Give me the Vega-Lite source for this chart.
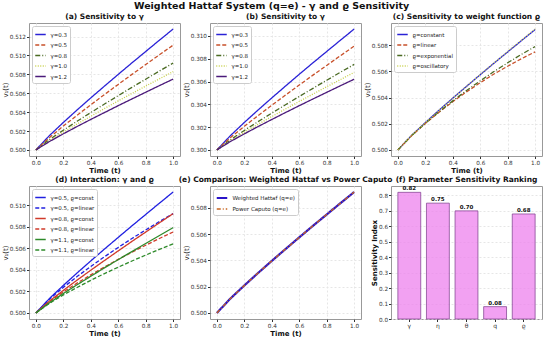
{
  "$schema": "https://vega.github.io/schema/vega-lite/v6.json",
  "autosize": {"type": "pad"},
  "padding": {"left": 0, "top": 1, "right": 2, "bottom": 1},
  "background": "white",
  "title": {"text": "Weighted Hattaf System (q=e) - γ and ϱ Sensitivity", "fontSize": 9.5, "offset": 2, "anchor": "middle"},
  "datasets": {
    "a": [
      {"s":"γ=0.3","t":0,"v":0.5},{"s":"γ=0.3","t":0.1,"v":0.50154},{"s":"γ=0.3","t":0.2,"v":0.50291},{"s":"γ=0.3","t":0.3,"v":0.50423},{"s":"γ=0.3","t":0.4,"v":0.50551},{"s":"γ=0.3","t":0.5,"v":0.50676},{"s":"γ=0.3","t":0.6,"v":0.508},{"s":"γ=0.3","t":0.7,"v":0.50922},{"s":"γ=0.3","t":0.8,"v":0.51042},{"s":"γ=0.3","t":0.9,"v":0.51162},{"s":"γ=0.3","t":1,"v":0.5128},
      {"s":"γ=0.5","t":0,"v":0.5},{"s":"γ=0.5","t":0.1,"v":0.50133},{"s":"γ=0.5","t":0.2,"v":0.50253},{"s":"γ=0.5","t":0.3,"v":0.50367},{"s":"γ=0.5","t":0.4,"v":0.50478},{"s":"γ=0.5","t":0.5,"v":0.50587},{"s":"γ=0.5","t":0.6,"v":0.50694},{"s":"γ=0.5","t":0.7,"v":0.508},{"s":"γ=0.5","t":0.8,"v":0.50904},{"s":"γ=0.5","t":0.9,"v":0.51007},{"s":"γ=0.5","t":1,"v":0.5111},
      {"s":"γ=0.8","t":0,"v":0.5},{"s":"γ=0.8","t":0.1,"v":0.50111},{"s":"γ=0.8","t":0.2,"v":0.50209},{"s":"γ=0.8","t":0.3,"v":0.50304},{"s":"γ=0.8","t":0.4,"v":0.50396},{"s":"γ=0.8","t":0.5,"v":0.50486},{"s":"γ=0.8","t":0.6,"v":0.50575},{"s":"γ=0.8","t":0.7,"v":0.50663},{"s":"γ=0.8","t":0.8,"v":0.50749},{"s":"γ=0.8","t":0.9,"v":0.50835},{"s":"γ=0.8","t":1,"v":0.5092},
      {"s":"γ=1.0","t":0,"v":0.5},{"s":"γ=1.0","t":0.1,"v":0.501},{"s":"γ=1.0","t":0.2,"v":0.50189},{"s":"γ=1.0","t":0.3,"v":0.50274},{"s":"γ=1.0","t":0.4,"v":0.50357},{"s":"γ=1.0","t":0.5,"v":0.50439},{"s":"γ=1.0","t":0.6,"v":0.50519},{"s":"γ=1.0","t":0.7,"v":0.50598},{"s":"γ=1.0","t":0.8,"v":0.50676},{"s":"γ=1.0","t":0.9,"v":0.50753},{"s":"γ=1.0","t":1,"v":0.5083},
      {"s":"γ=1.2","t":0,"v":0.5},{"s":"γ=1.2","t":0.1,"v":0.5009},{"s":"γ=1.2","t":0.2,"v":0.50171},{"s":"γ=1.2","t":0.3,"v":0.50248},{"s":"γ=1.2","t":0.4,"v":0.50323},{"s":"γ=1.2","t":0.5,"v":0.50396},{"s":"γ=1.2","t":0.6,"v":0.50469},{"s":"γ=1.2","t":0.7,"v":0.5054},{"s":"γ=1.2","t":0.8,"v":0.50611},{"s":"γ=1.2","t":0.9,"v":0.50681},{"s":"γ=1.2","t":1,"v":0.5075}
    ],
    "b": [
      {"s":"γ=0.3","t":0,"v":0.3},{"s":"γ=0.3","t":0.1,"v":0.30127},{"s":"γ=0.3","t":0.2,"v":0.30241},{"s":"γ=0.3","t":0.3,"v":0.3035},{"s":"γ=0.3","t":0.4,"v":0.30456},{"s":"γ=0.3","t":0.5,"v":0.3056},{"s":"γ=0.3","t":0.6,"v":0.30663},{"s":"γ=0.3","t":0.7,"v":0.30764},{"s":"γ=0.3","t":0.8,"v":0.30863},{"s":"γ=0.3","t":0.9,"v":0.30962},{"s":"γ=0.3","t":1,"v":0.3106},
      {"s":"γ=0.5","t":0,"v":0.3},{"s":"γ=0.5","t":0.1,"v":0.30109},{"s":"γ=0.5","t":0.2,"v":0.30207},{"s":"γ=0.5","t":0.3,"v":0.30301},{"s":"γ=0.5","t":0.4,"v":0.30392},{"s":"γ=0.5","t":0.5,"v":0.30481},{"s":"γ=0.5","t":0.6,"v":0.30569},{"s":"γ=0.5","t":0.7,"v":0.30656},{"s":"γ=0.5","t":0.8,"v":0.30741},{"s":"γ=0.5","t":0.9,"v":0.30826},{"s":"γ=0.5","t":1,"v":0.3091},
      {"s":"γ=0.8","t":0,"v":0.3},{"s":"γ=0.8","t":0.1,"v":0.3009},{"s":"γ=0.8","t":0.2,"v":0.30171},{"s":"γ=0.8","t":0.3,"v":0.30248},{"s":"γ=0.8","t":0.4,"v":0.30323},{"s":"γ=0.8","t":0.5,"v":0.30396},{"s":"γ=0.8","t":0.6,"v":0.30469},{"s":"γ=0.8","t":0.7,"v":0.3054},{"s":"γ=0.8","t":0.8,"v":0.30611},{"s":"γ=0.8","t":0.9,"v":0.30681},{"s":"γ=0.8","t":1,"v":0.3075},
      {"s":"γ=1.0","t":0,"v":0.3},{"s":"γ=1.0","t":0.1,"v":0.30082},{"s":"γ=1.0","t":0.2,"v":0.30155},{"s":"γ=1.0","t":0.3,"v":0.30225},{"s":"γ=1.0","t":0.4,"v":0.30293},{"s":"γ=1.0","t":0.5,"v":0.30359},{"s":"γ=1.0","t":0.6,"v":0.30425},{"s":"γ=1.0","t":0.7,"v":0.3049},{"s":"γ=1.0","t":0.8,"v":0.30554},{"s":"γ=1.0","t":0.9,"v":0.30617},{"s":"γ=1.0","t":1,"v":0.3068},
      {"s":"γ=1.2","t":0,"v":0.3},{"s":"γ=1.2","t":0.1,"v":0.30075},{"s":"γ=1.2","t":0.2,"v":0.30141},{"s":"γ=1.2","t":0.3,"v":0.30205},{"s":"γ=1.2","t":0.4,"v":0.30267},{"s":"γ=1.2","t":0.5,"v":0.30328},{"s":"γ=1.2","t":0.6,"v":0.30388},{"s":"γ=1.2","t":0.7,"v":0.30447},{"s":"γ=1.2","t":0.8,"v":0.30505},{"s":"γ=1.2","t":0.9,"v":0.30563},{"s":"γ=1.2","t":1,"v":0.3062}
    ],
    "c": [
      {"s":"ϱ=constant","t":0,"v":0.5},{"s":"ϱ=constant","t":0.1,"v":0.50111},{"s":"ϱ=constant","t":0.2,"v":0.50209},{"s":"ϱ=constant","t":0.3,"v":0.50304},{"s":"ϱ=constant","t":0.4,"v":0.50396},{"s":"ϱ=constant","t":0.5,"v":0.50486},{"s":"ϱ=constant","t":0.6,"v":0.50575},{"s":"ϱ=constant","t":0.7,"v":0.50663},{"s":"ϱ=constant","t":0.8,"v":0.50749},{"s":"ϱ=constant","t":0.9,"v":0.50835},{"s":"ϱ=constant","t":1,"v":0.5092},
      {"s":"ϱ=linear","t":0,"v":0.5},{"s":"ϱ=linear","t":0.1,"v":0.50109},{"s":"ϱ=linear","t":0.2,"v":0.50202},{"s":"ϱ=linear","t":0.3,"v":0.50289},{"s":"ϱ=linear","t":0.4,"v":0.50369},{"s":"ϱ=linear","t":0.5,"v":0.50444},{"s":"ϱ=linear","t":0.6,"v":0.50514},{"s":"ϱ=linear","t":0.7,"v":0.5058},{"s":"ϱ=linear","t":0.8,"v":0.5064},{"s":"ϱ=linear","t":0.9,"v":0.50697},{"s":"ϱ=linear","t":1,"v":0.5075},
      {"s":"ϱ=exponential","t":0,"v":0.5},{"s":"ϱ=exponential","t":0.1,"v":0.5011},{"s":"ϱ=exponential","t":0.2,"v":0.50204},{"s":"ϱ=exponential","t":0.3,"v":0.50292},{"s":"ϱ=exponential","t":0.4,"v":0.50375},{"s":"ϱ=exponential","t":0.5,"v":0.50454},{"s":"ϱ=exponential","t":0.6,"v":0.50528},{"s":"ϱ=exponential","t":0.7,"v":0.50599},{"s":"ϱ=exponential","t":0.8,"v":0.50666},{"s":"ϱ=exponential","t":0.9,"v":0.5073},{"s":"ϱ=exponential","t":1,"v":0.5079},
      {"s":"ϱ=oscillatory","t":0,"v":0.5},{"s":"ϱ=oscillatory","t":0.1,"v":0.5011},{"s":"ϱ=oscillatory","t":0.2,"v":0.50208},{"s":"ϱ=oscillatory","t":0.3,"v":0.50302},{"s":"ϱ=oscillatory","t":0.4,"v":0.50395},{"s":"ϱ=oscillatory","t":0.5,"v":0.50486},{"s":"ϱ=oscillatory","t":0.6,"v":0.50576},{"s":"ϱ=oscillatory","t":0.7,"v":0.50665},{"s":"ϱ=oscillatory","t":0.8,"v":0.50752},{"s":"ϱ=oscillatory","t":0.9,"v":0.50838},{"s":"ϱ=oscillatory","t":1,"v":0.50924}
    ],
    "d": [
      {"s":"γ=0.5, ϱ=const","t":0,"v":0.5},{"s":"γ=0.5, ϱ=const","t":0.1,"v":0.50135},{"s":"γ=0.5, ϱ=const","t":0.2,"v":0.50255},{"s":"γ=0.5, ϱ=const","t":0.3,"v":0.5037},{"s":"γ=0.5, ϱ=const","t":0.4,"v":0.50482},{"s":"γ=0.5, ϱ=const","t":0.5,"v":0.50592},{"s":"γ=0.5, ϱ=const","t":0.6,"v":0.507},{"s":"γ=0.5, ϱ=const","t":0.7,"v":0.50807},{"s":"γ=0.5, ϱ=const","t":0.8,"v":0.50912},{"s":"γ=0.5, ϱ=const","t":0.9,"v":0.51017},{"s":"γ=0.5, ϱ=const","t":1,"v":0.5112},
      {"s":"γ=0.5, ϱ=linear","t":0,"v":0.5},{"s":"γ=0.5, ϱ=linear","t":0.1,"v":0.50129},{"s":"γ=0.5, ϱ=linear","t":0.2,"v":0.50237},{"s":"γ=0.5, ϱ=linear","t":0.3,"v":0.50337},{"s":"γ=0.5, ϱ=linear","t":0.4,"v":0.50431},{"s":"γ=0.5, ϱ=linear","t":0.5,"v":0.50521},{"s":"γ=0.5, ϱ=linear","t":0.6,"v":0.50607},{"s":"γ=0.5, ϱ=linear","t":0.7,"v":0.5069},{"s":"γ=0.5, ϱ=linear","t":0.8,"v":0.50769},{"s":"γ=0.5, ϱ=linear","t":0.9,"v":0.50846},{"s":"γ=0.5, ϱ=linear","t":1,"v":0.5092},
      {"s":"γ=0.8, ϱ=const","t":0,"v":0.5},{"s":"γ=0.8, ϱ=const","t":0.1,"v":0.50111},{"s":"γ=0.8, ϱ=const","t":0.2,"v":0.50209},{"s":"γ=0.8, ϱ=const","t":0.3,"v":0.50304},{"s":"γ=0.8, ϱ=const","t":0.4,"v":0.50396},{"s":"γ=0.8, ϱ=const","t":0.5,"v":0.50486},{"s":"γ=0.8, ϱ=const","t":0.6,"v":0.50575},{"s":"γ=0.8, ϱ=const","t":0.7,"v":0.50663},{"s":"γ=0.8, ϱ=const","t":0.8,"v":0.50749},{"s":"γ=0.8, ϱ=const","t":0.9,"v":0.50835},{"s":"γ=0.8, ϱ=const","t":1,"v":0.5092},
      {"s":"γ=0.8, ϱ=linear","t":0,"v":0.5},{"s":"γ=0.8, ϱ=linear","t":0.1,"v":0.50106},{"s":"γ=0.8, ϱ=linear","t":0.2,"v":0.50194},{"s":"γ=0.8, ϱ=linear","t":0.3,"v":0.50276},{"s":"γ=0.8, ϱ=linear","t":0.4,"v":0.50353},{"s":"γ=0.8, ϱ=linear","t":0.5,"v":0.50426},{"s":"γ=0.8, ϱ=linear","t":0.6,"v":0.50496},{"s":"γ=0.8, ϱ=linear","t":0.7,"v":0.50563},{"s":"γ=0.8, ϱ=linear","t":0.8,"v":0.50627},{"s":"γ=0.8, ϱ=linear","t":0.9,"v":0.5069},{"s":"γ=0.8, ϱ=linear","t":1,"v":0.5075},
      {"s":"γ=1.1, ϱ=const","t":0,"v":0.5},{"s":"γ=1.1, ϱ=const","t":0.1,"v":0.50095},{"s":"γ=1.1, ϱ=const","t":0.2,"v":0.5018},{"s":"γ=1.1, ϱ=const","t":0.3,"v":0.50261},{"s":"γ=1.1, ϱ=const","t":0.4,"v":0.5034},{"s":"γ=1.1, ϱ=const","t":0.5,"v":0.50418},{"s":"γ=1.1, ϱ=const","t":0.6,"v":0.50494},{"s":"γ=1.1, ϱ=const","t":0.7,"v":0.50569},{"s":"γ=1.1, ϱ=const","t":0.8,"v":0.50643},{"s":"γ=1.1, ϱ=const","t":0.9,"v":0.50717},{"s":"γ=1.1, ϱ=const","t":1,"v":0.5079},
      {"s":"γ=1.1, ϱ=linear","t":0,"v":0.5},{"s":"γ=1.1, ϱ=linear","t":0.1,"v":0.5009},{"s":"γ=1.1, ϱ=linear","t":0.2,"v":0.50167},{"s":"γ=1.1, ϱ=linear","t":0.3,"v":0.50236},{"s":"γ=1.1, ϱ=linear","t":0.4,"v":0.50302},{"s":"γ=1.1, ϱ=linear","t":0.5,"v":0.50365},{"s":"γ=1.1, ϱ=linear","t":0.6,"v":0.50424},{"s":"γ=1.1, ϱ=linear","t":0.7,"v":0.50481},{"s":"γ=1.1, ϱ=linear","t":0.8,"v":0.50536},{"s":"γ=1.1, ϱ=linear","t":0.9,"v":0.50589},{"s":"γ=1.1, ϱ=linear","t":1,"v":0.5064}
    ],
    "e": [
      {"s":"Weighted Hattaf (q=e)","t":0,"v":0.5},{"s":"Weighted Hattaf (q=e)","t":0.1,"v":0.50111},{"s":"Weighted Hattaf (q=e)","t":0.2,"v":0.50209},{"s":"Weighted Hattaf (q=e)","t":0.3,"v":0.50304},{"s":"Weighted Hattaf (q=e)","t":0.4,"v":0.50396},{"s":"Weighted Hattaf (q=e)","t":0.5,"v":0.50486},{"s":"Weighted Hattaf (q=e)","t":0.6,"v":0.50575},{"s":"Weighted Hattaf (q=e)","t":0.7,"v":0.50663},{"s":"Weighted Hattaf (q=e)","t":0.8,"v":0.50749},{"s":"Weighted Hattaf (q=e)","t":0.9,"v":0.50835},{"s":"Weighted Hattaf (q=e)","t":1,"v":0.5092},
      {"s":"Power Caputo (q=e)","t":0,"v":0.5},{"s":"Power Caputo (q=e)","t":0.1,"v":0.50111},{"s":"Power Caputo (q=e)","t":0.2,"v":0.50209},{"s":"Power Caputo (q=e)","t":0.3,"v":0.50304},{"s":"Power Caputo (q=e)","t":0.4,"v":0.50396},{"s":"Power Caputo (q=e)","t":0.5,"v":0.50486},{"s":"Power Caputo (q=e)","t":0.6,"v":0.50575},{"s":"Power Caputo (q=e)","t":0.7,"v":0.50663},{"s":"Power Caputo (q=e)","t":0.8,"v":0.50749},{"s":"Power Caputo (q=e)","t":0.9,"v":0.50835},{"s":"Power Caputo (q=e)","t":1,"v":0.5092}
    ],
    "f": [
      {"p":"γ","v":0.82},{"p":"η","v":0.75},{"p":"θ","v":0.70},{"p":"q","v":0.08},{"p":"ϱ","v":0.68}
    ]
  },
  "columns": 3,
  "spacing": {"row": 30, "column": 30},
  "bounds": "flush",
  "resolve": {
    "scale": {"color": "independent", "strokeDash": "independent", "strokeWidth": "independent", "x": "independent", "y": "independent"},
    "legend": {"color": "independent", "strokeDash": "independent", "strokeWidth": "independent"},
    "axis": {"x": "independent", "y": "independent"}
  },
  "concat": [
    {
      "title": "(a) Sensitivity to γ",
      "width": 151, "height": 133,
      "data": {"name": "a"},
      "mark": {"type": "line", "strokeWidth": 1.3},
      "encoding": {
        "x": {"field": "t", "type": "quantitative", "scale": {"domain": [-0.05, 1.05], "nice": false, "zero": false}, "axis": {"values": [0, 0.2, 0.4, 0.6, 0.8, 1], "format": ".1f", "title": "Time (t)"}},
        "y": {"field": "v", "type": "quantitative", "scale": {"domain": [0.49936, 0.51344], "nice": false, "zero": false}, "axis": {"values": [0.5, 0.502, 0.504, 0.506, 0.508, 0.51, 0.512], "format": ".3f", "title": "v₁(t)"}},
        "color": {"field": "s", "type": "nominal", "scale": {"domain": ["γ=0.3", "γ=0.5", "γ=0.8", "γ=1.0", "γ=1.2"], "range": ["#2a22d6", "#c8502a", "#4a6a22", "#c8d04a", "#4b1a7a"]}, "legend": {"orient": "top-left", "title": null}},
        "strokeDash": {"field": "s", "type": "nominal", "scale": {"domain": ["γ=0.3", "γ=0.5", "γ=0.8", "γ=1.0", "γ=1.2"], "range": [[1, 0], [4, 2], [5, 2, 1, 2], [1, 1.5], [1, 0]]}, "legend": {"orient": "top-left", "title": null}}
      }
    },
    {
      "title": "(b) Sensitivity to γ",
      "width": 151, "height": 133,
      "data": {"name": "b"},
      "mark": {"type": "line", "strokeWidth": 1.3},
      "encoding": {
        "x": {"field": "t", "type": "quantitative", "scale": {"domain": [-0.05, 1.05], "nice": false, "zero": false}, "axis": {"values": [0, 0.2, 0.4, 0.6, 0.8, 1], "format": ".1f", "title": "Time (t)"}},
        "y": {"field": "v", "type": "quantitative", "scale": {"domain": [0.29947, 0.31113], "nice": false, "zero": false}, "axis": {"values": [0.3, 0.302, 0.304, 0.306, 0.308, 0.31], "format": ".3f", "title": "v₂(t)"}},
        "color": {"field": "s", "type": "nominal", "scale": {"domain": ["γ=0.3", "γ=0.5", "γ=0.8", "γ=1.0", "γ=1.2"], "range": ["#2a22d6", "#c8502a", "#4a6a22", "#c8d04a", "#4b1a7a"]}, "legend": {"orient": "top-left", "title": null}},
        "strokeDash": {"field": "s", "type": "nominal", "scale": {"domain": ["γ=0.3", "γ=0.5", "γ=0.8", "γ=1.0", "γ=1.2"], "range": [[1, 0], [4, 2], [5, 2, 1, 2], [1, 1.5], [1, 0]]}, "legend": {"orient": "top-left", "title": null}}
      }
    },
    {
      "title": "(c) Sensitivity to weight function ϱ",
      "width": 151, "height": 133,
      "data": {"name": "c"},
      "mark": {"type": "line", "strokeWidth": 1.3},
      "encoding": {
        "x": {"field": "t", "type": "quantitative", "scale": {"domain": [-0.05, 1.05], "nice": false, "zero": false}, "axis": {"values": [0, 0.2, 0.4, 0.6, 0.8, 1], "format": ".1f", "title": "Time (t)"}},
        "y": {"field": "v", "type": "quantitative", "scale": {"domain": [0.49954, 0.5097], "nice": false, "zero": false}, "axis": {"values": [0.5, 0.502, 0.504, 0.506, 0.508], "format": ".3f", "title": "v₁(t)"}},
        "color": {"field": "s", "type": "nominal", "scale": {"domain": ["ϱ=constant", "ϱ=linear", "ϱ=exponential", "ϱ=oscillatory"], "range": ["#2a22d6", "#c8502a", "#4a6a22", "#c8d04a"]}, "legend": {"orient": "top-left", "title": null}},
        "strokeDash": {"field": "s", "type": "nominal", "scale": {"domain": ["ϱ=constant", "ϱ=linear", "ϱ=exponential", "ϱ=oscillatory"], "range": [[1, 0], [4, 2], [5, 2, 1, 2], [1, 1.5]]}, "legend": {"orient": "top-left", "title": null}}
      }
    },
    {
      "title": "(d) Interaction: γ and ϱ",
      "width": 151, "height": 133,
      "data": {"name": "d"},
      "mark": {"type": "line", "strokeWidth": 1.3},
      "encoding": {
        "x": {"field": "t", "type": "quantitative", "scale": {"domain": [-0.05, 1.05], "nice": false, "zero": false}, "axis": {"values": [0, 0.2, 0.4, 0.6, 0.8, 1], "format": ".1f", "title": "Time (t)"}},
        "y": {"field": "v", "type": "quantitative", "scale": {"domain": [0.49944, 0.51176], "nice": false, "zero": false}, "axis": {"values": [0.5, 0.502, 0.504, 0.506, 0.508, 0.51], "format": ".3f", "title": "v₁(t)"}},
        "color": {"field": "s", "type": "nominal", "scale": {"domain": ["γ=0.5, ϱ=const", "γ=0.5, ϱ=linear", "γ=0.8, ϱ=const", "γ=0.8, ϱ=linear", "γ=1.1, ϱ=const", "γ=1.1, ϱ=linear"], "range": ["#2020e0", "#2020e0", "#d03a2a", "#d03a2a", "#2e8a2a", "#2e8a2a"]}, "legend": {"orient": "top-left", "title": null}},
        "strokeDash": {"field": "s", "type": "nominal", "scale": {"domain": ["γ=0.5, ϱ=const", "γ=0.5, ϱ=linear", "γ=0.8, ϱ=const", "γ=0.8, ϱ=linear", "γ=1.1, ϱ=const", "γ=1.1, ϱ=linear"], "range": [[1, 0], [4, 2], [1, 0], [4, 2], [1, 0], [4, 2]]}, "legend": {"orient": "top-left", "title": null}}
      }
    },
    {
      "title": "(e) Comparison: Weighted Hattaf vs Power Caputo",
      "width": 151, "height": 133,
      "data": {"name": "e"},
      "mark": {"type": "line"},
      "encoding": {
        "x": {"field": "t", "type": "quantitative", "scale": {"domain": [-0.05, 1.05], "nice": false, "zero": false}, "axis": {"values": [0, 0.2, 0.4, 0.6, 0.8, 1], "format": ".1f", "title": "Time (t)"}},
        "y": {"field": "v", "type": "quantitative", "scale": {"domain": [0.49954, 0.50966], "nice": false, "zero": false}, "axis": {"values": [0.5, 0.502, 0.504, 0.506, 0.508], "format": ".3f", "title": "v₁(t)"}},
        "color": {"field": "s", "type": "nominal", "scale": {"domain": ["Weighted Hattaf (q=e)", "Power Caputo (q=e)"], "range": ["#2a14c8", "#c8641e"]}, "legend": {"orient": "top-left", "title": null}},
        "strokeDash": {"field": "s", "type": "nominal", "scale": {"domain": ["Weighted Hattaf (q=e)", "Power Caputo (q=e)"], "range": [[1, 0], [4, 2, 1, 2]]}, "legend": {"orient": "top-left", "title": null}},
        "strokeWidth": {"field": "s", "type": "nominal", "scale": {"domain": ["Weighted Hattaf (q=e)", "Power Caputo (q=e)"], "range": [2.2, 1.3]}, "legend": {"orient": "top-left", "title": null}}
      }
    },
    {
      "title": "(f) Parameter Sensitivity Ranking",
      "width": 151, "height": 133,
      "data": {"name": "f"},
      "encoding": {
        "x": {"field": "p", "type": "nominal", "sort": null, "scale": {"paddingInner": 0.2, "paddingOuter": 0.24}, "axis": {"title": null, "labelAngle": 0, "labelFontSize": 6, "grid": false}},
        "y": {"field": "v", "type": "quantitative", "scale": {"domain": [0, 0.861], "nice": false}, "axis": {"values": [0, 0.1, 0.2, 0.3, 0.4, 0.5, 0.6, 0.7, 0.8], "format": ".1f", "title": "Sensitivity Index", "titleFontWeight": "bold"}}
      },
      "layer": [
        {"mark": {"type": "bar", "fill": "#ee82ee", "fillOpacity": 0.75, "stroke": "#7a3a8a", "strokeOpacity": 0.7, "strokeWidth": 1}},
        {"mark": {"type": "text", "dy": -4, "fontSize": 5.5, "fontWeight": "bold", "color": "#111"}, "encoding": {"text": {"field": "v", "type": "quantitative", "format": ".2f"}}}
      ]
    }
  ],
  "config": {
    "font": "DejaVu Sans",
    "view": {"stroke": "#999", "strokeWidth": 1},
    "axis": {"domain": false, "labelFontSize": 5.7, "titleFontSize": 7, "labelColor": "#333", "tickColor": "#333", "tickSize": 2.5, "labelPadding": 1, "titlePadding": 1.5, "gridColor": "#e6e6e6", "gridDash": [2, 2], "titleColor": "#111"},
    "axisX": {"titleFontWeight": "bold"},
    "axisY": {"titleFontWeight": "normal", "titlePadding": 1},
    "legend": {"labelFontSize": 5.5, "symbolType": "stroke", "symbolSize": 110, "symbolStrokeWidth": 1.5, "fillColor": "white", "strokeColor": "#ccc", "padding": 2.5, "rowPadding": 0.5, "offset": 3, "cornerRadius": 2, "labelLimit": 200, "labelColor": "#222"},
    "title": {"fontSize": 7.5, "fontWeight": "bold", "offset": 2.5, "color": "#111"}
  }
}
